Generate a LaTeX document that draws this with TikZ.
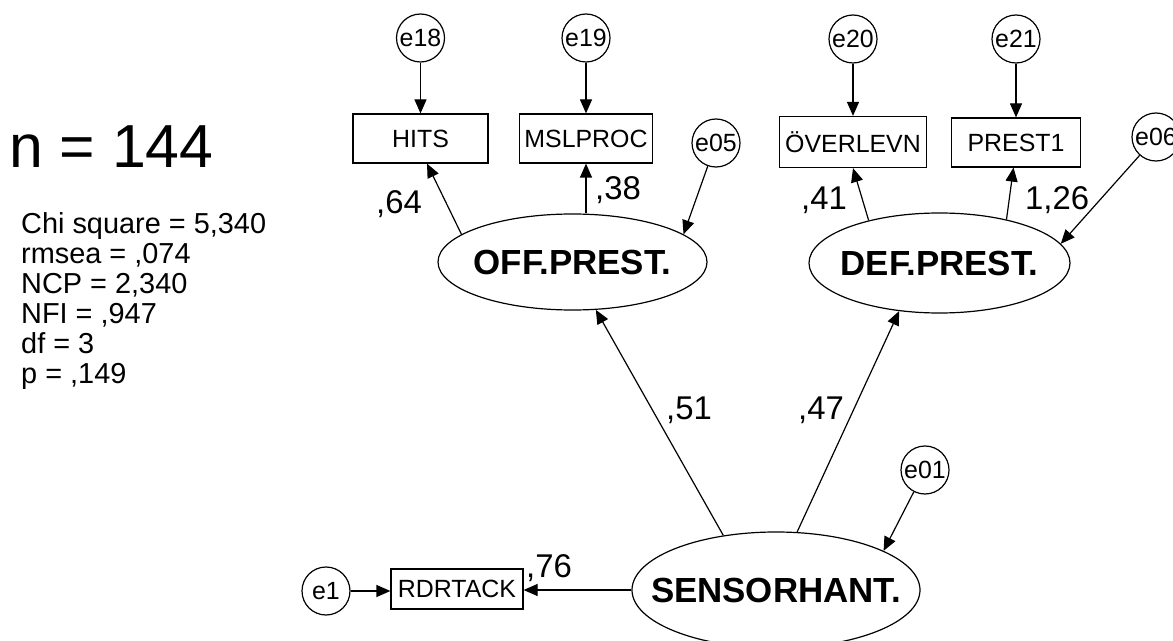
\documentclass[tikz,border=0pt]{standalone}
\usepackage{fontspec}
\setmainfont{Liberation Sans}
\usetikzlibrary{arrows.meta,shapes.geometric,calc}
\begin{document}
\begin{tikzpicture}[x=1bp,y=-1bp,
  lw/.style={line width=1.2bp},
  arr/.style={lw,-{Triangle[length=14bp,width=12bp]}},
  obs/.style={draw,lw,rectangle,inner sep=0pt,font=\fontsize{25}{25}\selectfont},
  lat/.style={draw,lw,ellipse,inner sep=0pt,font=\bfseries\fontsize{35}{35}\selectfont},
  err/.style={draw,lw,circle,inner sep=0pt,minimum size=48bp,font=\fontsize{25}{25}\selectfont},
  coef/.style={anchor=base west,inner sep=0pt,font=\fontsize{33}{33}\selectfont},
  info/.style={anchor=base west,inner sep=0pt,align=left}]
\fill[white] (0,0) rectangle (1173,641);
\clip (0,0) rectangle (1173,641);
\useasboundingbox (0,0) rectangle (1173,641);

% text block
\node[info,font=\fontsize{61}{61}\selectfont] (n) at (9,168) {n = 144};
\node[info,font=\fontsize{29}{30}\selectfont] (stats) at (21,383)
  {Chi square = 5,340\\rmsea = ,074\\NCP = 2,340\\NFI = ,947\\df = 3\\p = ,149};

% error terms
\node[err] (e18) at (420.5,38) {\makebox[0pt]{e18}};
\node[err] (e19) at (586,38) {\makebox[0pt]{e19}};
\node[err] (e20) at (853,39) {\makebox[0pt]{e20}};
\node[err] (e21) at (1016,39) {\makebox[0pt]{e21}};
\node[err] (e05) at (716,143) {\makebox[0pt]{e05}};
\node[err] (e06) at (1156,137) {\makebox[0pt]{e06}};
\node[err] (e01) at (925,470) {\makebox[0pt]{e01}};
\node[err] (e1) at (326,591) {\makebox[0pt]{e1}};

% observed variables
\node[obs,minimum width=135bp,minimum height=49bp] (hits) at (420.5,138.5) {HITS};
\node[obs,minimum width=133bp,minimum height=49bp] (msl) at (586,138.5) {MSLPROC};
\node[obs,minimum width=147bp,minimum height=51bp] (overl) at (853,142) {ÖVERLEVN};
\node[obs,minimum width=129bp,minimum height=49bp] (prest) at (1016,142.5) {PREST1};
\node[obs,minimum width=132bp,minimum height=40bp] (rdr) at (457,589) {RDRTACK};

% latent variables
\node[lat,minimum width=269bp,minimum height=96bp] (off) at (572.5,262) {\makebox[0pt]{OFF.PREST.}};
\node[lat,minimum width=261bp,minimum height=100bp] (def) at (939.5,263) {\makebox[0pt]{DEF.PREST.}};
\node[lat,minimum width=288bp,minimum height=116bp] (sensor) at (776,590) {\makebox[0pt]{SENSORHANT.}};

% connectors
\draw[arr] (e18) -- (hits);
\draw[arr] (e19) -- (msl);
\draw[arr] (e20) -- (overl);
\draw[arr] (e21) -- (prest);
\draw[arr] (off.166.5) -- ([xshift=6.5bp]hits.south);
\draw[arr] (off.north -| msl.south) -- (msl.south);
\draw[arr] (e05) -- (off.14.8);
\draw[arr] (def.149.3) -- (overl.south);
\draw[arr] (def.33.7) -- ([xshift=-2.5bp]prest.south);
\draw[arr] (e06) -- (def.9.9);
\draw[arr] (sensor.134.5) -- (off.296);
\draw[arr] (sensor.70) -- (def.230.3);
\draw[arr] (e01) -- (sensor.20.1);
\draw[arr] (sensor.west) -- (sensor.west -| rdr.east);
\draw[arr] (e1) -- (e1 -| rdr.west);

% coefficients
\node[coef] (l64) at (376,214) {,64};
\node[coef] (l38) at (595,200) {,38};
\node[coef] (l41) at (801,210) {,41};
\node[coef] (l126) at (1025,210) {1,26};
\node[coef] (l51) at (666,419) {,51};
\node[coef] (l47) at (798,419) {,47};
\node[coef] (l76) at (526,577) {,76};
\end{tikzpicture}
\end{document}
